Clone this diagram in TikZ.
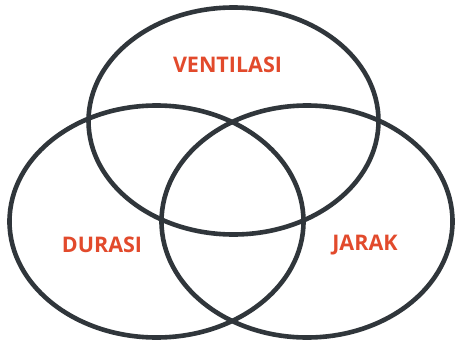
\documentclass[tikz,border=0pt]{standalone}
\usepackage{fontspec}
\setmainfont{Open Sans}
\definecolor{ringcol}{HTML}{30363B}
\definecolor{labcol}{HTML}{E24A2C}
\begin{document}
\begin{tikzpicture}[x=1pt,y=-1pt,
  ring/.style={draw=ringcol,line width=4.6pt},
  lab/.style={text=labcol,font=\fontsize{21.5}{24}\selectfont\bfseries,inner sep=0pt}]
\useasboundingbox[fill=white] (0,0) rectangle (462,345);
\draw[ring] (233.5,121) ellipse [x radius=145pt, y radius=113.5pt];
\draw[ring] (156.5,221.5) ellipse [x radius=147pt, y radius=116pt];
\draw[ring] (307,221.5) ellipse [x radius=145.5pt, y radius=116pt];
\node[lab] (v) at (227.5,64.5) {VENTILASI};
\node[lab] (d) at (102,245) {DURASI};
\node[lab] (j) at (365,245) {JARAK};
\end{tikzpicture}
\end{document}
